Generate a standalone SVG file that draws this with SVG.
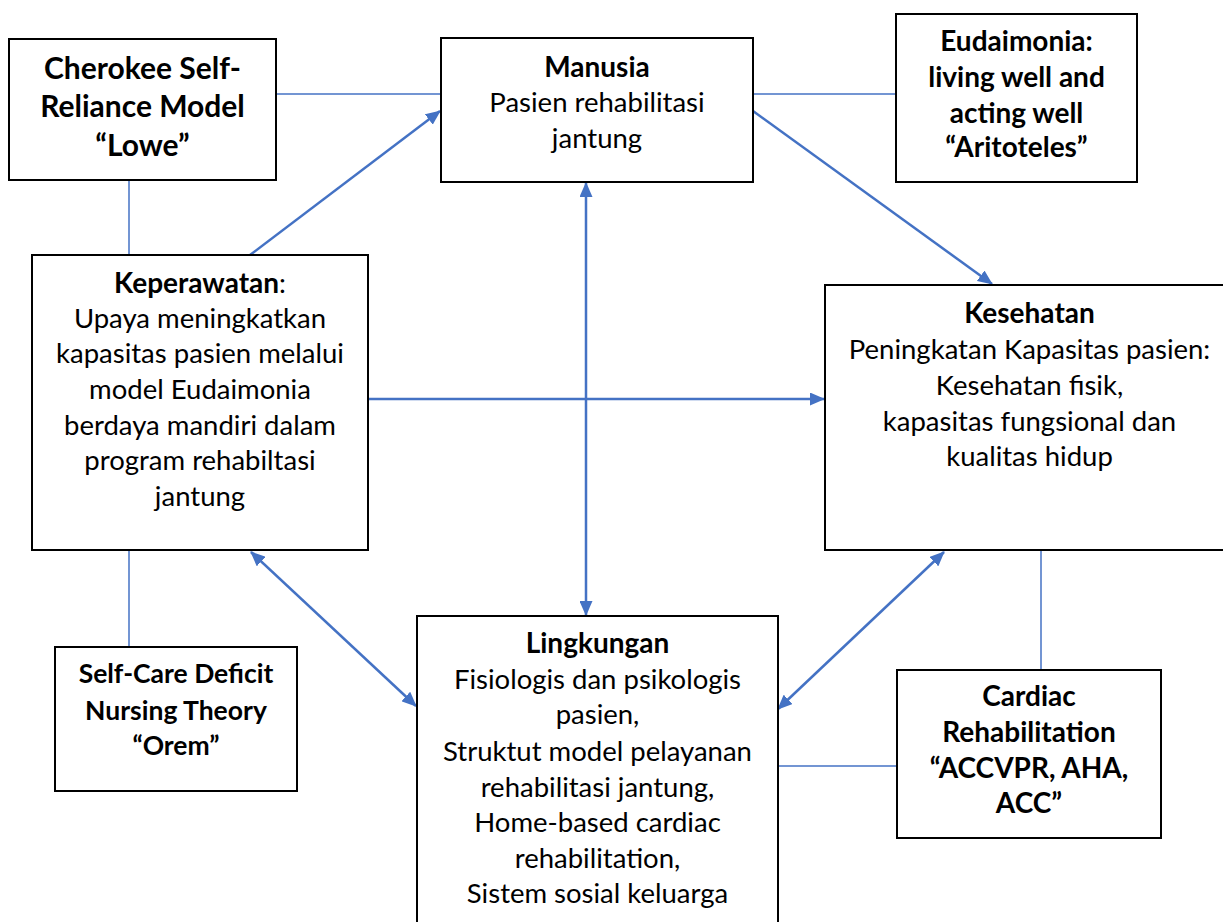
<svg xmlns="http://www.w3.org/2000/svg" width="1223" height="922" viewBox="0 0 1223 922">
<defs>
<style>
.box{fill:#fff;stroke:#000;stroke-width:2}
.t{font-family:Lato,"Liberation Sans",sans-serif;font-size:27.5px;fill:#000;text-anchor:middle}
.b{font-weight:bold;font-size:28px}
.ln{stroke:#4472C4;stroke-width:1.5;fill:none}
.ar{stroke:#4472C4;stroke-width:2.5;fill:none}
</style>
<marker id="ah" viewBox="0 0 15 13" refX="14" refY="6.5" markerWidth="15" markerHeight="13" markerUnits="userSpaceOnUse" orient="auto-start-reverse">
<path d="M0,0 L15,6.5 L0,13 Z" fill="#4472C4"/>
</marker>
</defs>
<rect width="1223" height="922" fill="#fff"/>
<g id="connectors">
<line class="ln" x1="276" y1="94" x2="441" y2="94"/>
<line class="ln" x1="129" y1="180" x2="129" y2="255"/>
<line class="ar" x1="250" y1="255" x2="440" y2="111" marker-end="url(#ah)"/>
<line class="ln" x1="753" y1="94" x2="896" y2="94"/>
<line class="ar" x1="753" y1="111" x2="992" y2="284" marker-end="url(#ah)"/>
<line class="ar" x1="586" y1="183" x2="586" y2="615" marker-start="url(#ah)" marker-end="url(#ah)"/>
<line class="ar" x1="368" y1="399" x2="824" y2="399" marker-end="url(#ah)"/>
<line class="ln" x1="129" y1="550" x2="129" y2="647"/>
<line class="ar" x1="251" y1="552" x2="416" y2="706" marker-start="url(#ah)" marker-end="url(#ah)"/>
<line class="ar" x1="944" y1="552" x2="778" y2="709" marker-start="url(#ah)" marker-end="url(#ah)"/>
<line class="ln" x1="1041" y1="550" x2="1041" y2="670"/>
<line class="ln" x1="778" y1="766" x2="897" y2="766"/>
</g>
<g id="cherokee">
<rect class="box" x="9" y="39" width="267" height="141"/>
<text class="t b" style="font-size:30px" x="142.5" y="79">Cherokee Self-</text>
<text class="t b" style="font-size:30px" x="142.5" y="117">Reliance Model</text>
<text class="t b" style="font-size:30px" x="142.5" y="156">“Lowe”</text>
</g>
<g id="manusia">
<rect class="box" x="441" y="38" width="312" height="144"/>
<text class="t b" x="597" y="77">Manusia</text>
<text class="t" x="597" y="112">Pasien rehabilitasi</text>
<text class="t" x="597" y="148">jantung</text>
</g>
<g id="eudaimonia">
<rect class="box" x="896" y="14" width="241" height="168"/>
<text class="t b" x="1016.5" y="51">Eudaimonia:</text>
<text class="t b" x="1016.5" y="87">living well and</text>
<text class="t b" x="1016.5" y="123">acting well</text>
<text class="t b" x="1016.5" y="157">“Aritoteles”</text>
</g>
<g id="keperawatan">
<rect class="box" x="32" y="255" width="336" height="295"/>
<text class="t" x="200" y="293"><tspan class="b">Keperawatan</tspan>:</text>
<text class="t" x="200" y="328">Upaya meningkatkan</text>
<text class="t" x="200" y="363">kapasitas pasien melalui</text>
<text class="t" x="200" y="399">model Eudaimonia</text>
<text class="t" x="200" y="435">berdaya mandiri dalam</text>
<text class="t" x="200" y="470">program rehabiltasi</text>
<text class="t" x="200" y="506">jantung</text>
</g>
<g id="kesehatan">
<rect class="box" x="825" y="285" width="420" height="265"/>
<text class="t b" x="1029.5" y="323">Kesehatan</text>
<text class="t" x="1029.5" y="359">Peningkatan Kapasitas pasien:</text>
<text class="t" x="1029.5" y="395">Kesehatan fisik,</text>
<text class="t" x="1029.5" y="431">kapasitas fungsional dan</text>
<text class="t" x="1029.5" y="466">kualitas hidup</text>
</g>
<g id="selfcare">
<rect class="box" x="55" y="647" width="242" height="144"/>
<text class="t b" style="font-size:26.5px" x="176" y="683">Self-Care Deficit</text>
<text class="t b" style="font-size:26.5px" x="176" y="720">Nursing Theory</text>
<text class="t b" style="font-size:26.5px" x="176" y="755">“Orem”</text>
</g>
<g id="lingkungan">
<rect class="box" x="417" y="616" width="361" height="330"/>
<text class="t b" x="597.5" y="653">Lingkungan</text>
<text class="t" x="597.5" y="689">Fisiologis dan psikologis</text>
<text class="t" x="597.5" y="724">pasien,</text>
<text class="t" x="597.5" y="761">Struktut model pelayanan</text>
<text class="t" x="597.5" y="797">rehabilitasi jantung,</text>
<text class="t" x="597.5" y="832">Home-based cardiac</text>
<text class="t" x="597.5" y="868">rehabilitation,</text>
<text class="t" x="597.5" y="903">Sistem sosial keluarga</text>
</g>
<g id="cardiac">
<rect class="box" x="897" y="670" width="264" height="168"/>
<text class="t b" x="1029" y="706">Cardiac</text>
<text class="t b" x="1029" y="742">Rehabilitation</text>
<text class="t b" x="1029" y="778">“ACCVPR, AHA,</text>
<text class="t b" x="1029" y="813">ACC”</text>
</g>
</svg>
